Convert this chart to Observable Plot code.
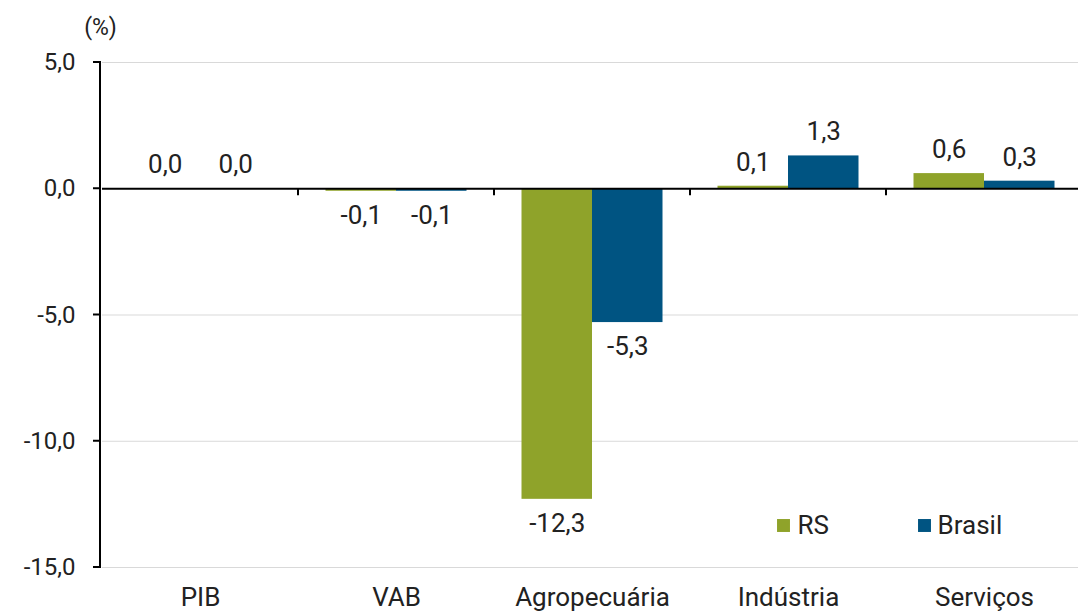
<!DOCTYPE html>
<html>
<head>
<meta charset="utf-8">
<script src="https://cdn.jsdelivr.net/npm/d3@7"></script>
<script src="https://cdn.jsdelivr.net/npm/@observablehq/plot@0.6"></script>
<style>
  html, body { margin: 0; padding: 0; background: #fff; }
  #chart svg { display: block; }
</style>
</head>
<body>
<div id="chart"></div>
<script>
const categories = ["PIB", "VAB", "Agropecuária", "Indústria", "Serviços"];
const series = ["RS", "Brasil"];
const rsValues = [0.0, -0.1, -12.3, 0.1, 0.6];
const brasilValues = [0.0, -0.1, -5.3, 1.3, 0.3];
const yTicks = [5, 0, -5, -10, -15];
const gridValues = [5, -5, -10, -15];
const unitLabel = ["(%)"];
const colors = ["#8fa32a", "#005482"];

const fmt = v => v.toFixed(1).replace(".", ",");

const data = categories.flatMap((c, i) => [
  {category: c, series: "RS", value: rsValues[i]},
  {category: c, series: "Brasil", value: brasilValues[i]}
]);

const W = 1078, H = 613;
const mL = 102, mR = -4, mT = 62, mB = 46;
const step = (W - mL - mR) / categories.length;
const barW = 70.5;
const outer = (step - 2 * barW) / 2;

const textStyle = {fontFamily: "Roboto", fontSize: 26, fill: "#222", lineAnchor: "middle"};

const marks = [
  Plot.ruleY(gridValues, {stroke: "#d9d9d9", strokeWidth: 1})
];
series.forEach((s, k) => {
  const sub = data.filter(d => d.series === s);
  const insetLeft = k === 0 ? outer : outer + barW;
  const insetRight = k === 0 ? outer + barW : outer;
  marks.push(Plot.barY(sub, {x: "category", y: "value", fill: colors[k], insetLeft, insetRight}));
});
marks.push(Plot.ruleY([0], {stroke: "#000", strokeWidth: 2}));
// y axis line, y ticks and category boundary ticks on the zero line
marks.push((index, scales, values, dimensions) => {
  const g = d3.create("svg:g");
  const y0 = scales.y(0);
  const left = dimensions.marginLeft - 2;
  g.append("line")
    .attr("x1", left).attr("x2", left)
    .attr("y1", dimensions.marginTop - 1).attr("y2", dimensions.height - dimensions.marginBottom + 1)
    .attr("stroke", "#000").attr("stroke-width", 2);
  yTicks.forEach(t => {
    g.append("line")
      .attr("x1", left - 7).attr("x2", left)
      .attr("y1", scales.y(t)).attr("y2", scales.y(t))
      .attr("stroke", "#000").attr("stroke-width", 2);
  });
  categories.slice(1).forEach(c => {
    const x = scales.x(c);
    g.append("line")
      .attr("x1", x).attr("x2", x)
      .attr("y1", y0).attr("y2", y0 + 7)
      .attr("stroke", "#000").attr("stroke-width", 2);
  });
  return g.node();
});
// axis tick labels
marks.push(Plot.text(yTicks, {y: d => d, frameAnchor: "left", dx: -27, textAnchor: "end", text: fmt, ...textStyle, fontSize: 24}));
marks.push(Plot.text(categories, {x: d => d, frameAnchor: "bottom", dy: 30, text: d => d, ...textStyle}));
// data labels
series.forEach((s, k) => {
  const sub = data.filter(d => d.series === s);
  const dx = (k === 0 ? -1 : 1) * barW / 2;
  marks.push(Plot.text(sub.filter(d => d.value >= 0), {
    x: "category", y: "value", text: d => fmt(d.value), dx, dy: -24, ...textStyle
  }));
  marks.push(Plot.text(sub.filter(d => d.value < 0), {
    x: "category", y: "value", text: d => fmt(d.value), dx, dy: 24, ...textStyle
  }));
});
// legend inside the plot
marks.push(Plot.dot([series[0]], {frameAnchor: "bottom-right", dx: -299, dy: -42, symbol: "square", r: 7.3, fill: colors[0]}));
marks.push(Plot.text([series[0]], {frameAnchor: "bottom-right", dx: -285, dy: -42, text: d => d, textAnchor: "start", ...textStyle}));
marks.push(Plot.dot([series[1]], {frameAnchor: "bottom-right", dx: -158, dy: -42, symbol: "square", r: 7.3, fill: colors[1]}));
marks.push(Plot.text([series[1]], {frameAnchor: "bottom-right", dx: -145, dy: -42, text: d => d, textAnchor: "start", ...textStyle}));
// unit label
marks.push(Plot.text(unitLabel, {frameAnchor: "top-left", dx: -2, dy: -35, text: d => d, textAnchor: "middle", ...textStyle, fontSize: 23}));

const chart = Plot.plot({
  width: W, height: H,
  marginLeft: mL, marginRight: mR, marginTop: mT, marginBottom: mB,
  style: {fontFamily: "Roboto", fontSize: "21px", color: "#222", background: "#fff", overflow: "visible"},
  x: {domain: categories, padding: 0, axis: null},
  y: {domain: [-15, 5], axis: null},
  marks
});
document.getElementById("chart").appendChild(chart);
</script>
</body>
</html>
